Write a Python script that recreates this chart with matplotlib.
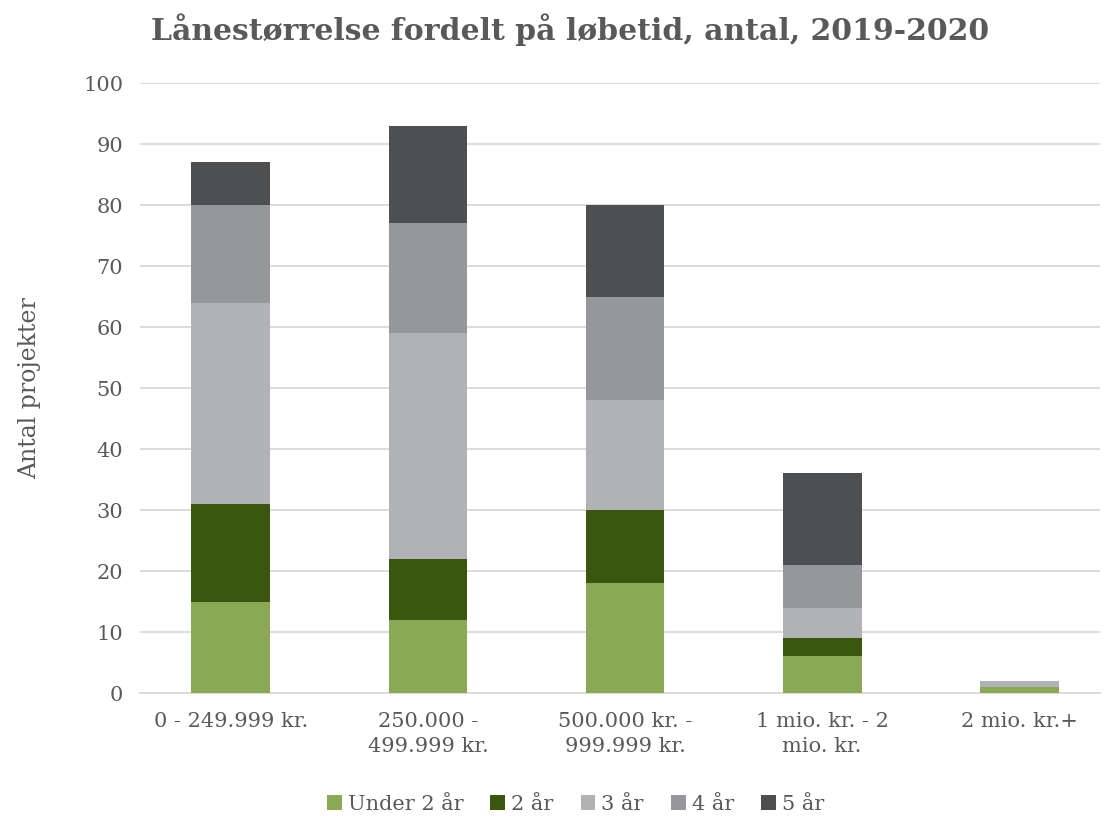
import numpy as np
import matplotlib
matplotlib.use('Agg')
import matplotlib.pyplot as plt

plt.rcParams['font.family'] = ['DejaVu Serif']

kategorier = ['0 - 249.999 kr.', '250.000 -\n499.999 kr.', '500.000 kr. -\n999.999 kr.',
              '1 mio. kr. - 2\nmio. kr.', '2 mio. kr.+']
serier = ['Under 2 år', '2 år', '3 år', '4 år', '5 år']
under2 = [15, 12, 18, 6, 1]
aar2 = [16, 10, 12, 3, 0]
aar3 = [33, 37, 18, 5, 1]
aar4 = [16, 18, 17, 7, 0]
aar5 = [7, 16, 15, 15, 0]
farver = ['#8aa855', '#3a560f', '#b1b2b5', '#96979a', '#4e4f51']

tekst = '#595959'
fig = plt.figure(figsize=(11.09, 8.16), dpi=100)
ax = fig.add_axes([0.126, 0.1507, 0.866, 0.7475])

x = np.arange(len(kategorier))
bund = np.zeros(len(kategorier))
for navn, vaerdier, farve in zip(serier, [under2, aar2, aar3, aar4, aar5], farver):
    ax.bar(x, vaerdier, width=0.40, bottom=bund, color=farve, label=navn, zorder=3)
    bund += np.array(vaerdier)

ax.set_ylim(0, 100)
ax.set_xlim(-0.462, 4.41)
ax.set_yticks(range(0, 101, 10))
ax.yaxis.grid(True, color='#d9d9d9', linewidth=1.3, zorder=0)
ax.set_axisbelow(True)
for s in ['top', 'right', 'left']:
    ax.spines[s].set_visible(False)
ax.spines['bottom'].set_color('#d9d9d9')
ax.spines['bottom'].set_linewidth(1.3)
ax.tick_params(axis='both', length=0, colors=tekst, labelsize=15)
ax.tick_params(axis='y', pad=12)
ax.tick_params(axis='x', pad=14)
ax.set_xticks(x)
ax.set_xticklabels(kategorier, linespacing=1.4)
ax.set_ylabel('Antal projekter', fontsize=17, color=tekst, labelpad=30)

fig.suptitle('Lånestørrelse fordelt på løbetid, antal, 2019-2020', fontsize=21.5,
             fontweight='bold', color=tekst, x=0.514, y=0.984)

fig.legend(loc='lower center', ncol=5, frameon=False, fontsize=15,
           bbox_to_anchor=(0.519, -0.02), handlelength=0.7, handleheight=0.7,
           handletextpad=0.3, columnspacing=1.3, labelcolor=tekst)

fig.savefig('out.png', dpi=100)
